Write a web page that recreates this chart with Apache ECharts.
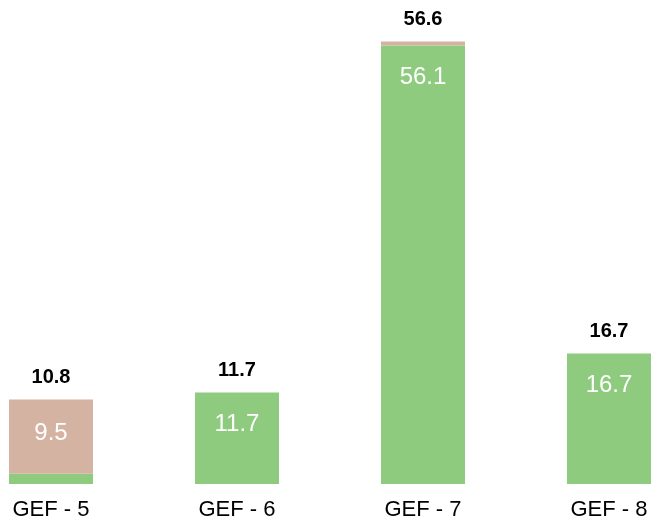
<!DOCTYPE html>
<html>
<head>
<meta charset="utf-8">
<script src="https://cdn.jsdelivr.net/npm/echarts@6/dist/echarts.min.js"></script>
<style>
  html, body { margin: 0; padding: 0; background: #fff; }
  #main { width: 651px; height: 524px; }
</style>
</head>
<body>
<div id="main"></div>
<script>
// 数据
var categories = ['GEF - 5', 'GEF - 6', 'GEF - 7', 'GEF - 8'];
var greenValues = [1.3, 11.7, 56.1, 16.7];
var brownValues = [9.5, 0, 0.5, 0];
var totals = [10.8, 11.7, 56.6, 16.7];
var greenShown = [false, true, true, true];
var brownShown = [true, false, false, false];

var font = '"Liberation Sans", Arial, sans-serif';
var myChart = echarts.init(document.getElementById('main'));

var option = {
    animation: false,
    grid: { left: -42, width: 744, top: 15, bottom: 40, outerBoundsMode: 'none', containLabel: false },
    xAxis: {
        type: 'category',
        data: categories,
        axisLine: { show: false },
        axisTick: { show: false },
        axisLabel: { color: '#000', fontSize: 22, margin: 15, fontFamily: font }
    },
    yAxis: { type: 'value', min: 0, max: 60, show: false },
    series: [
        {
            name: 'green',
            type: 'bar',
            stack: 'total',
            barWidth: 84,
            itemStyle: { color: '#8ecb7f' },
            label: {
                show: true,
                position: 'insideTop',
                distance: 20,
                color: '#fff',
                fontSize: 24,
                fontFamily: font,
                formatter: function (p) { return greenShown[p.dataIndex] ? p.value.toFixed(1) : ''; }
            },
            data: greenValues
        },
        {
            name: 'brown',
            type: 'bar',
            stack: 'total',
            itemStyle: { color: '#d4b3a3' },
            label: {
                show: true,
                position: 'insideTop',
                distance: 22,
                color: '#fff',
                fontSize: 24,
                fontFamily: font,
                formatter: function (p) { return brownShown[p.dataIndex] ? p.value.toFixed(1) : ''; }
            },
            data: brownValues
        },
        {
            name: 'total',
            type: 'bar',
            stack: 'total',
            itemStyle: { color: 'transparent' },
            label: {
                show: true,
                position: 'top',
                distance: 12,
                color: '#000',
                fontSize: 20,
                fontWeight: 'bold',
                fontFamily: font,
                formatter: function (p) { return totals[p.dataIndex].toFixed(1); }
            },
            data: [0, 0, 0, 0]
        }
    ]
};

myChart.setOption(option);
</script>
</body>
</html>
